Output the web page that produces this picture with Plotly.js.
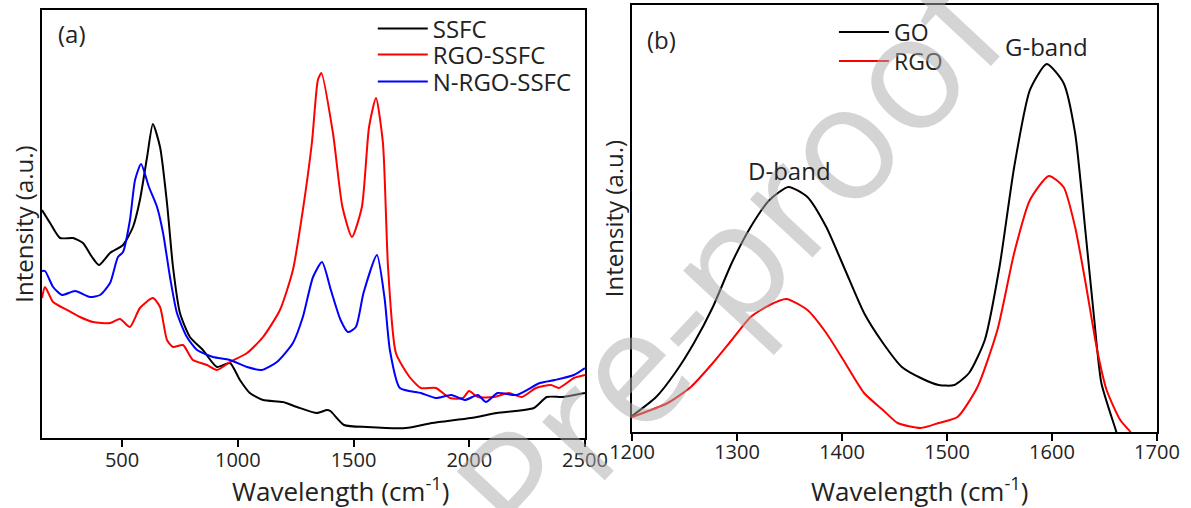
<!DOCTYPE html>
<html>
<head>
<meta charset="utf-8">
<script src="https://cdn.plot.ly/plotly-3.0.1.min.js"></script>
<style>html,body{margin:0;padding:0;background:#fff}#chart{width:1191px;height:508px}</style>
</head>
<body>
<div id="chart"></div>
<script>
// ---- Panel (a): Raman spectra ----
const ssfcX = [154,189,232,288,331,370,400,448,504,547,577,608,633,664,694,720,750,793,849,910,966,1009,1052,1109,1195,1256,1342,1385,1400,1459,1558,1726,1839,2007,2119,2279,2335,2405,2500];
const ssfcY = [228,215,200,200,195,181,173,185,193,211,238,281,314,291,235,171,125,101,88,71,75,58,45,38,36,31,25,28,27,13,11,10,15,20,25,30,41,41,45];

const rgoSsfcX = [154,167,202,262,318,374,448,491,534,577,633,664,694,720,763,806,867,910,966,1040,1109,1182,1238,1281,1320,1346,1361,1411,1452,1493,1536,1567,1597,1627,1649,1683,1742,1791,1856,1916,1973,1999,2037,2106,2171,2227,2288,2353,2387,2452,2500];
const rgoSsfcY = [140,151,136,128,121,116,115,119,111,130,140,131,98,91,93,78,73,68,76,85,101,128,168,228,295,358,365,305,231,201,231,311,340,295,171,85,61,50,50,40,40,47,41,41,45,41,50,53,50,60,63];

const nRgoSsfcX = [154,167,202,240,297,361,405,448,482,504,534,556,582,616,651,677,707,737,780,824,893,966,1040,1104,1169,1238,1281,1325,1364,1402,1444,1476,1510,1543,1601,1634,1657,1700,1791,1856,1923,1981,2037,2072,2122,2204,2305,2370,2452,2500];
const nRgoSsfcY = [167,167,151,143,147,141,143,155,181,186,218,258,274,251,231,205,161,125,101,88,81,78,71,68,76,95,121,161,176,148,118,106,111,145,183,140,88,50,45,40,43,38,43,36,45,43,55,58,63,70];

// ---- Panel (b): D and G bands ----
const goX = [1200,1223,1241,1259,1277,1295,1313,1331,1349,1367,1385,1403,1421,1439,1457,1475,1492,1507,1521,1536,1550,1564,1579,1595,1611,1622,1632,1640,1647,1661,1670];
const goY = [16,35,59,89,125,169,205,232,245,235,205,162,119,89,65,54,47,47,59,92,165,265,342,368,349,299,199,115,49,1,-30];

const rgoX = [1200,1234,1256,1277,1295,1313,1331,1347,1367,1385,1403,1421,1439,1453,1475,1492,1510,1529,1548,1564,1579,1597,1611,1622,1632,1643,1652,1665,1674,1680];
const rgoY = [15,29,45,69,92,115,127,133,122,99,69,39,22,9,4,9,15,45,102,179,232,256,245,205,149,82,42,12,1,-8];

const xTicksA = [500,1000,1500,2000,2500];
const xTicksB = [1200,1300,1400,1500,1600,1700];

const FONT = 'Open Sans, Lato, sans-serif';
const TXT = '#222';

function line(x, y, name, color, xa, ya, leg) {
  return {x: x, y: y, name: name, type: 'scatter', mode: 'lines',
    line: {color: color, width: 2, shape: 'spline', smoothing: 0.6},
    xaxis: xa, yaxis: ya, legend: leg, hoverinfo: 'skip'};
}

const data = [
  line(ssfcX, ssfcY, 'SSFC', '#000000', 'x', 'y', 'legend'),
  line(rgoSsfcX, rgoSsfcY, 'RGO-SSFC', '#ff0000', 'x', 'y', 'legend2'),
  line(nRgoSsfcX, nRgoSsfcY, 'N-RGO-SSFC', '#0000ff', 'x', 'y', 'legend3'),
  line(goX, goY, 'GO', '#000000', 'x2', 'y2', 'legend4'),
  line(rgoX, rgoY, 'RGO', '#ff0000', 'x2', 'y2', 'legend5')
];

const axCommon = {showline: true, mirror: true, linecolor: '#000', linewidth: 2,
  showgrid: false, zeroline: false};

function leg(x, y, size) {
  return {x: x, y: y, xanchor: 'left', yanchor: 'middle', bgcolor: 'rgba(0,0,0,0)',
    borderwidth: 0, font: {size: size, color: TXT, family: FONT}, itemwidth: 50};
}

function note(text, x, y, size, extra) {
  return Object.assign({text: text, xref: 'paper', yref: 'paper', x: x, y: y, showarrow: false,
    xanchor: 'center', yanchor: 'middle', font: {size: size, color: TXT, family: FONT}}, extra || {});
}

const layout = {
  width: 1191, height: 508,
  margin: {l: 0, r: 0, t: 0, b: 0},
  paper_bgcolor: '#fff', plot_bgcolor: '#fff',
  font: {family: FONT, color: TXT},
  showlegend: true,
  xaxis: Object.assign({}, axCommon, {domain: [0.03527, 0.49118], range: [154, 2500],
    tickmode: 'array', tickvals: xTicksA, ticks: 'outside', ticklen: 7, tickwidth: 2, tickcolor: '#000',
    ticklabelstandoff: -4,
    tickfont: {size: 20, color: TXT, family: FONT}, anchor: 'y'}),
  yaxis: Object.assign({}, axCommon, {domain: [0.1378, 0.9803], range: [0, 428],
    showticklabels: false, ticks: '', anchor: 'x',
    title: {text: 'Intensity (a.u.)', font: {size: 24, color: TXT, family: FONT}, standoff: 0}}),
  xaxis2: Object.assign({}, axCommon, {domain: [0.53065, 0.97145], range: [1200, 1700],
    tickmode: 'array', tickvals: xTicksB, ticks: 'outside', ticklen: 7, tickwidth: 2, tickcolor: '#000',
    ticklabelstandoff: -6,
    tickfont: {size: 20, color: TXT, family: FONT}, anchor: 'y2'}),
  yaxis2: Object.assign({}, axCommon, {domain: [0.1496, 0.9902], range: [0, 427],
    showticklabels: false, ticks: '', anchor: 'x2',
    title: {text: 'Intensity (a.u.)', font: {size: 24, color: TXT, family: FONT}, standoff: 0}}),
  legend: leg(0.313, 1 - 29 / 508, 24),
  legend2: leg(0.313, 1 - 55 / 508, 24),
  legend3: leg(0.313, 1 - 82 / 508, 24),
  legend4: leg(0.7002, 1 - 32 / 508, 23),
  legend5: leg(0.7002, 1 - 61 / 508, 23),
  annotations: [
    note('Pre-proof', 0.613, 0.498, 160, {textangle: -47, font: {size: 160, color: 'rgba(170,170,170,0.5)', family: FONT}}),
    note('Wavelength (cm<sup>-1</sup>)', 340 / 1191, 1 - 490 / 508, 26),
    note('Wavelength (cm<sup>-1</sup>)', 919 / 1191, 1 - 490 / 508, 26),
    note('(a)', 72 / 1191, 1 - 33 / 508, 24),
    note('(b)', 661 / 1191, 1 - 40 / 508, 24),
    {text: 'D-band', xref: 'x2', yref: 'y2', x: 1350, y: 245, yshift: 16, showarrow: false,
     xanchor: 'center', yanchor: 'middle', font: {size: 24, color: TXT, family: FONT}},
    {text: 'G-band', xref: 'x2', yref: 'y2', x: 1595, y: 368, yshift: 17, showarrow: false,
     xanchor: 'center', yanchor: 'middle', font: {size: 24, color: TXT, family: FONT}}
  ]
};

Plotly.newPlot('chart', data, layout, {staticPlot: true, displayModeBar: false});
</script>
</body>
</html>
